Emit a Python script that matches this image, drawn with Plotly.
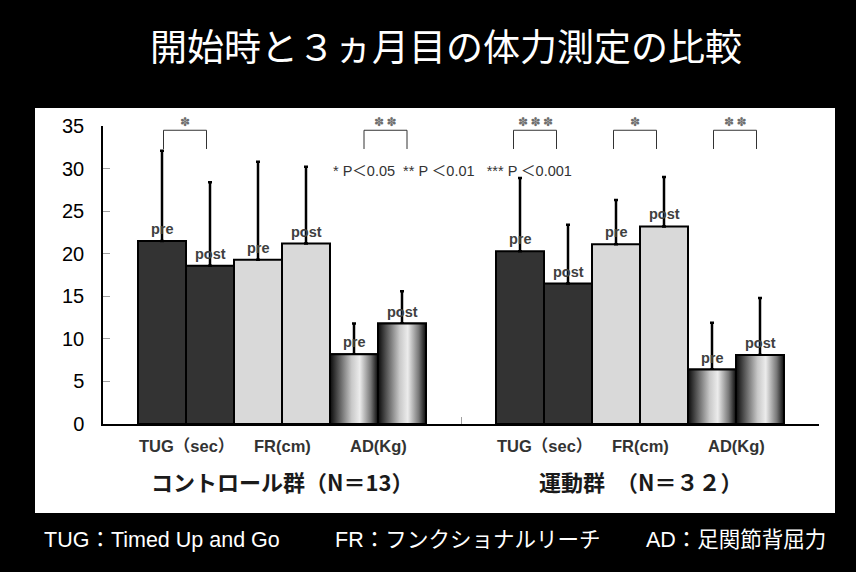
import plotly.graph_objects as go

# --- data -----------------------------------------------------------------
group_labels = ["コントロール群（N＝13）", "運動群　（N＝３２）"]
measure_labels = ["TUG（sec）", "FR(cm)", "AD(Kg)"]
phase_labels = ["pre", "post"]

# means and SDs, ordered TUG pre/post, FR pre/post, AD pre/post
control_mean = [21.5, 18.6, 19.3, 21.2, 8.2, 11.8]
control_sd = [10.6, 9.8, 11.5, 9.0, 3.6, 3.8]
exercise_mean = [20.3, 16.5, 21.1, 23.2, 6.4, 8.1]
exercise_sd = [8.6, 6.9, 5.2, 5.8, 5.5, 6.7]

# significance of pre vs post for each measure
control_sig = ["*", "", "**"]
exercise_sig = ["***", "*", "**"]

y_ticks = [0, 5, 10, 15, 20, 25, 30, 35]

title_text = "開始時と３ヵ月目の体力測定の比較"
p_note = "* P＜0.05  ** P ＜0.01   *** P ＜0.001"
footer_texts = ["TUG：Timed Up and Go", "FR：フンクショナルリーチ", "AD：足関節背屈力"]

# --- geometry / style -------------------------------------------------------
W, H = 856, 572
ML, MR, MT, MB = 103, 37, 126, 148
PW, PH = W - ML - MR, H - MT - MB
Y_MAX = 35
PAD = 35 / 358            # gap between category edge and first bar
BW = (1 - 2 * PAD) / 6    # width of one bar in category units
DARK = "#333333"
LIGHT = "#d9d9d9"
AD_SCALE = [[0, "#0a0a0a"], [0.15, "#4a4a4a"], [0.45, "#c8c8c8"],
            [0.62, "#ececec"], [0.85, "#777777"], [1, "#0a0a0a"]]
CJK = "Liberation Sans, Noto Sans CJK JP, sans-serif"
# bracket centre shift from the pre/post boundary, in pixels
BRACKET_SHIFT = [[-1, 0, 7.5], [-9, -5, -1]]
BRACKET_HALF = 21.5  # pixels


def px_to_x(dx):
    return dx * 2 / PW


def px_to_paper_x(px):
    return (px - ML) / PW


def px_to_paper_y(py):
    return (H - MB - py) / PH


fig = go.Figure()

means = [control_mean, exercise_mean]
sds = [control_sd, exercise_sd]
sigs = [control_sig, exercise_sig]
annotations = []
shapes = []

for g in range(2):
    for k in range(6):
        m = k // 2
        left = g + PAD + k * BW
        center = left + BW / 2
        v = means[g][k]
        fill = [DARK, LIGHT, "rgba(0,0,0,0)"][m]
        fig.add_trace(go.Bar(
            x=[center], y=[v], width=BW,
            marker=dict(color=fill, line=dict(color="black", width=2)),
            error_y=dict(type="data", symmetric=False, array=[sds[g][k]],
                         arrayminus=[0], thickness=2.5, width=2, color="black"),
            showlegend=False, hoverinfo="skip",
        ))
        if m == 2:
            fig.add_trace(go.Scatter(
                x=[left, left + BW, left + BW, left, left],
                y=[0, 0, v, v, 0],
                mode="lines", fill="toself",
                fillgradient=dict(type="horizontal", colorscale=AD_SCALE),
                line=dict(color="black", width=2),
                showlegend=False, hoverinfo="skip",
            ))
        annotations.append(dict(
            x=center, y=v, xref="x", yref="y", text=phase_labels[k % 2],
            showarrow=False, yanchor="bottom", yshift=2,
            font=dict(family="Liberation Sans", size=14.5, color="#404040",
                      weight="bold"),
        ))

    for m in range(3):
        boundary = g + PAD + (2 * m + 1) * BW
        annotations.append(dict(
            x=boundary, y=0, xref="x", yref="paper", text=measure_labels[m],
            showarrow=False, yanchor="middle", yshift=-22,
            font=dict(family=CJK, size=16.5, color="#333333", weight="bold"),
        ))
        if sigs[g][m]:
            c = boundary + px_to_x(BRACKET_SHIFT[g][m])
            x0 = c - px_to_x(BRACKET_HALF)
            x1 = c + px_to_x(BRACKET_HALF)
            top = 34.5 / Y_MAX
            low = 32.3 / Y_MAX
            shapes.append(dict(
                type="path", xref="x", yref="paper",
                path=f"M {x0},{low} L {x0},{top} L {x1},{top} L {x1},{low}",
                line=dict(color="#333333", width=1),
            ))
            annotations.append(dict(
                x=c, y=35.5 / Y_MAX, xref="x", yref="paper",
                text="\u2009".join("✽" * len(sigs[g][m])),
                showarrow=False, yanchor="middle",
                font=dict(family="DejaVu Sans", size=12, color="#6e6e6e",
                          weight="bold"),
            ))

    annotations.append(dict(
        x=g + 0.5, y=0, xref="x", yref="paper", text=group_labels[g],
        showarrow=False, yanchor="middle", yshift=-57,
        font=dict(family="Noto Sans CJK JP", size=22, color="#1a1a1a",
                  weight="bold"),
    ))

# p-value legend line
annotations.append(dict(
    x=px_to_paper_x(452), y=29.7, xref="paper", yref="y", text=p_note,
    showarrow=False, yanchor="middle",
    font=dict(family=CJK, size=14.5, color="#333333"),
))

# footer explaining the abbreviations
for txt, px in zip(footer_texts, [42, 333, 644]):
    annotations.append(dict(
        x=px_to_paper_x(px), y=px_to_paper_y(540), xref="paper", yref="paper",
        text=txt, showarrow=False, xanchor="left", yanchor="middle",
        font=dict(family=CJK, size=21.5, color="white"),
    ))

# white chart panel
shapes.insert(0, dict(
    type="rect", xref="paper", yref="paper", layer="below",
    x0=px_to_paper_x(35), x1=px_to_paper_x(835),
    y0=px_to_paper_y(513), y1=px_to_paper_y(108),
    fillcolor="white", line=dict(width=0),
))

fig.update_layout(
    width=W, height=H, autosize=False,
    margin=dict(l=ML, r=MR, t=MT, b=MB, pad=0),
    paper_bgcolor="black", plot_bgcolor="white",
    barmode="overlay",
    title=dict(text=title_text, x=446 / W, y=1 - 48 / H,
               xanchor="center", yanchor="middle",
               font=dict(family="Noto Sans CJK JP", size=37, color="white")),
    xaxis=dict(range=[0, 2], tickvals=[0, 1, 2], showticklabels=False,
               ticks="inside", ticklen=7, tickcolor="#a0a0a0",
               showline=True, linecolor="black", linewidth=1.5,
               showgrid=False, zeroline=False, fixedrange=True),
    yaxis=dict(range=[0, Y_MAX], tickvals=y_ticks, ticks="inside",
               ticklen=7, tickcolor="#a0a0a0", ticklabelstandoff=13,
               tickfont=dict(family="Liberation Sans", size=20, color="black"),
               showline=True, linecolor="black", linewidth=1.5,
               showgrid=False, zeroline=False, fixedrange=True),
    annotations=annotations,
    shapes=shapes,
    showlegend=False,
)

fig.write_html("out.html")
